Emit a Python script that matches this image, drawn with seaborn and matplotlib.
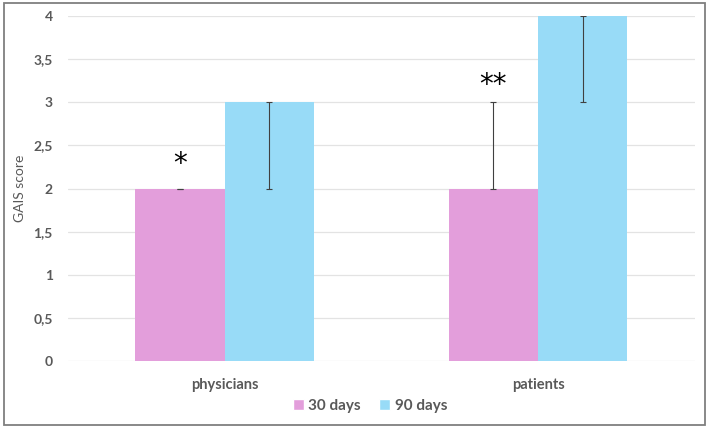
import numpy as np
import pandas as pd
import seaborn as sns
import matplotlib.pyplot as plt
from matplotlib.patches import Rectangle, Patch

# data
groups = ['physicians', 'patients']
periods = ['30 days', '90 days']
score_30 = [2, 2]
score_90 = [3, 4]
# error bar ranges (low, high) per bar
low_30 = [2, 2]
high_30 = [2, 3]
low_90 = [2, 3]
high_90 = [3, 4]
stars = ['*', '**']
star_y = [2.28, 3.2]

colors = ['#E39EDB', '#98DBF7']
grey = '#595959'

df = pd.DataFrame({
    'group': groups * 2,
    'period': [periods[0]] * 2 + [periods[1]] * 2,
    'score': score_30 + score_90,
})

sns.set_style('white')
plt.rcParams['font.family'] = ['Lato', 'DejaVu Sans']

fig = plt.figure(figsize=(7.09, 4.28), dpi=100)
ax = fig.add_axes([0.0959, 0.1565, 0.8841, 0.8061])

sns.barplot(data=df, x='group', y='score', hue='period', order=groups,
            hue_order=periods, palette=colors, width=0.57, gap=0,
            errorbar=None, saturation=1, linewidth=0, ax=ax, legend=False)
bar_sets = list(ax.containers)

# asymmetric error bars at each bar centre
lows = [low_30, low_90]
highs = [high_30, high_90]
for k, cont in enumerate(bar_sets):
    for i, bar in enumerate(cont):
        xc = bar.get_x() + bar.get_width() / 2
        h = bar.get_height()
        ax.errorbar(xc, h, yerr=[[h - lows[k][i]], [highs[k][i] - h]],
                    fmt='none', ecolor='#404040', elinewidth=0.8,
                    capsize=2, capthick=0.8, zorder=5)

# significance marks above the 30-day bars
for i, bar in enumerate(bar_sets[0]):
    xc = bar.get_x() + bar.get_width() / 2
    ax.text(xc, star_y[i], stars[i], ha='center', va='center',
            fontsize=20, color='black', family='DejaVu Sans')

ax.set_xlim(-0.5, 1.5)
ax.set_ylim(0, 4)
ax.set_yticks(np.arange(0, 4.01, 0.5))
ax.set_yticklabels([f'{v:g}'.replace('.', ',') for v in np.arange(0, 4.01, 0.5)])
ax.yaxis.grid(True, color='#E3E3E3', linewidth=0.9)
ax.set_axisbelow(True)
for s in ax.spines.values():
    s.set_visible(False)
ax.tick_params(axis='y', length=0, pad=11, labelsize=10, labelcolor=grey)
ax.tick_params(axis='x', length=0, pad=12, labelsize=10.5, labelcolor=grey)
for lbl in ax.get_xticklabels() + ax.get_yticklabels():
    lbl.set_fontweight('bold')
ax.set_xlabel('')
ax.set_ylabel('GAIS score', fontsize=10, color=grey, labelpad=5)

handles = [Patch(facecolor=c, label=p) for c, p in zip(colors, periods)]
leg = fig.legend(handles=handles, loc='center', bbox_to_anchor=(0.522, 0.051),
                 ncol=2, frameon=False, handlelength=0.7, handleheight=0.7,
                 handletextpad=0.3, columnspacing=1.2,
                 prop={'size': 11, 'weight': 'bold'})
for t in leg.get_texts():
    t.set_color(grey)

# outer chart border
fig.add_artist(Rectangle((0.005, 0.008), 0.99, 0.985, transform=fig.transFigure,
                         fill=False, edgecolor='#7F7F7F', linewidth=1.3))

fig.savefig('out.png', dpi=100)
